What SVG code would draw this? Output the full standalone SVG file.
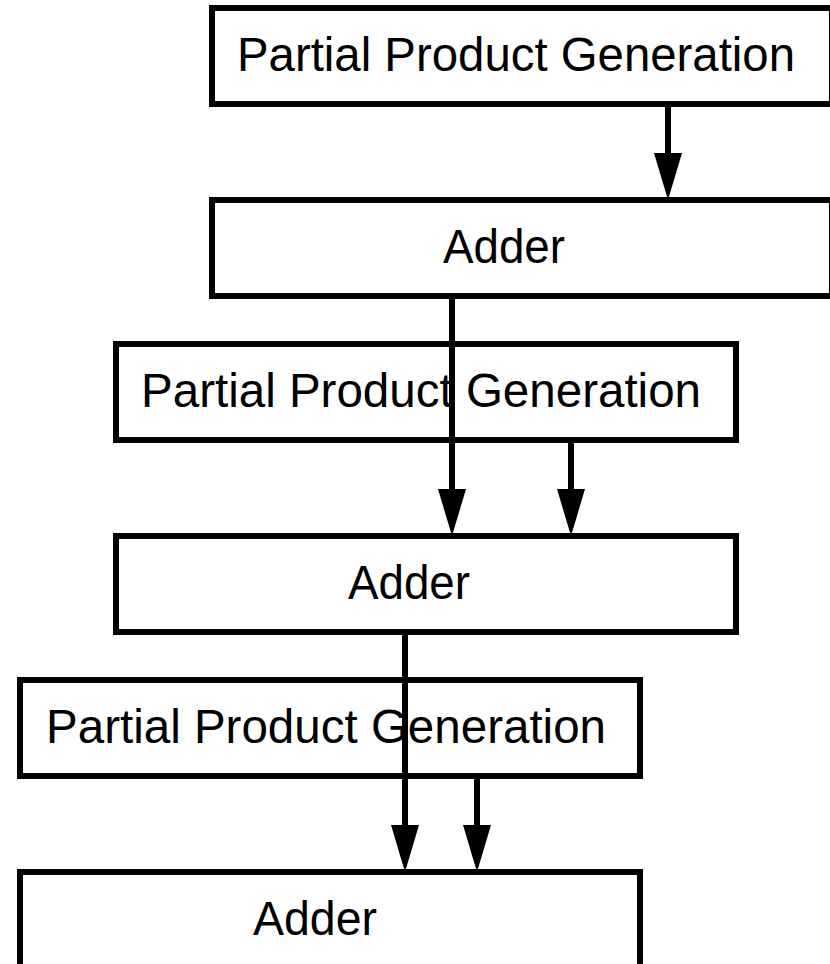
<svg xmlns="http://www.w3.org/2000/svg" width="830" height="964" viewBox="0 0 830 964">
<style>
.box{fill:#fff;stroke:#000;stroke-width:6;stroke-linejoin:miter}
.lbl{font-family:"Liberation Sans",Arial,sans-serif;font-size:48px;fill:#000}
.conn{stroke:#000;stroke-width:6;fill:none;marker-end:url(#arrow)}
</style>
<defs>
<marker id="arrow" markerUnits="userSpaceOnUse" markerWidth="50" markerHeight="30" refX="2" refY="0" orient="auto" overflow="visible">
<path d="M0,-14 L47,0 L0,14 Z" fill="#000"/>
</marker>
</defs>
<rect x="0" y="0" width="830" height="964" fill="#fff"/>
<g id="ppg1"><rect class="box" x="212" y="8" width="620" height="96"/><text class="lbl" x="237" y="71" textLength="558" lengthAdjust="spacingAndGlyphs">Partial Product Generation</text></g>
<g id="adder1"><rect class="box" x="212" y="200" width="620" height="96"/><text class="lbl" x="443" y="263" textLength="122" lengthAdjust="spacingAndGlyphs">Adder</text></g>
<g id="ppg2"><rect class="box" x="116" y="344" width="620" height="96"/><text class="lbl" x="141" y="407" textLength="560" lengthAdjust="spacingAndGlyphs">Partial Product Generation</text></g>
<g id="adder2"><rect class="box" x="116" y="536" width="620" height="96"/><text class="lbl" x="348" y="599" textLength="122" lengthAdjust="spacingAndGlyphs">Adder</text></g>
<g id="ppg3"><rect class="box" x="20" y="680" width="620" height="96"/><text class="lbl" x="46" y="743" textLength="560" lengthAdjust="spacingAndGlyphs">Partial Product Generation</text></g>
<g id="adder3"><rect class="box" x="20" y="872" width="620" height="96"/><text class="lbl" x="253" y="935" textLength="124" lengthAdjust="spacingAndGlyphs">Adder</text></g>
<g id="connectors">
<line class="conn" x1="668" y1="104" x2="668" y2="155"/>
<line class="conn" x1="452" y1="296" x2="452" y2="491"/>
<line class="conn" x1="571" y1="440" x2="571" y2="491"/>
<line class="conn" x1="405" y1="632" x2="405" y2="827"/>
<line class="conn" x1="477" y1="776" x2="477" y2="827"/>
</g>
</svg>
